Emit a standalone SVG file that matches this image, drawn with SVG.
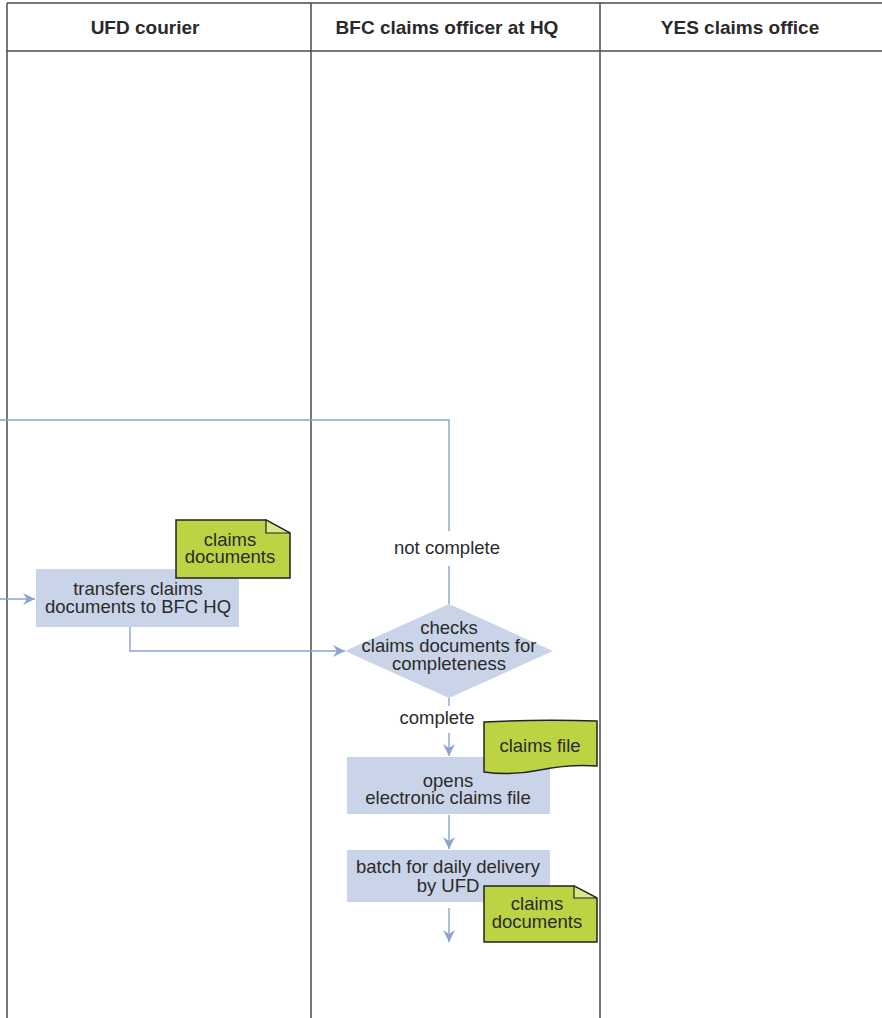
<svg xmlns="http://www.w3.org/2000/svg" width="882" height="1018" viewBox="0 0 882 1018">
<defs>
<style>
.lane{stroke:#4a4a4a;stroke-width:1.5;fill:none}
.hdr{font-family:"Liberation Sans",Arial,sans-serif;font-size:19px;font-weight:bold;fill:#2a2a2a;text-anchor:middle}
.t{font-family:"Liberation Sans",Arial,sans-serif;font-size:18.5px;fill:#2a2a2a;text-anchor:middle}
.box{fill:#cad4e8}
.doc{fill:#bcd444;stroke:#222;stroke-width:1.5}
.fold{fill:#dde68a;stroke:#222;stroke-width:1.2}
.c{stroke:#8aa4cf;stroke-width:1.4;fill:none}
</style>
<marker id="ah" markerWidth="14" markerHeight="12" refX="12" refY="6" orient="auto" markerUnits="userSpaceOnUse">
<path d="M0,0 L12,6 L0,12 L4,6 Z" fill="#8aa4cf"/>
</marker>
</defs>
<rect width="882" height="1018" fill="#fff"/>
<g id="lanes">
<line class="lane" x1="7" y1="3" x2="882" y2="3"/>
<line class="lane" x1="7" y1="51" x2="882" y2="51"/>
<line class="lane" x1="7" y1="3" x2="7" y2="1018"/>
<line class="lane" x1="311" y1="3" x2="311" y2="1018"/>
<line class="lane" x1="600" y1="3" x2="600" y2="1018"/>
<text class="hdr" x="145" y="34">UFD courier</text>
<text class="hdr" x="447" y="34">BFC claims officer at HQ</text>
<text class="hdr" x="740" y="34">YES claims office</text>
</g>
<g id="connectors">
<path class="c" d="M449,604 V566"/>
<path class="c" d="M449,531 V420 H0"/>
<path class="c" d="M0,599 H35" marker-end="url(#ah)"/>
<path class="c" d="M130,627 V651 H345" marker-end="url(#ah)"/>
<path class="c" d="M449,698 V706"/>
<path class="c" d="M449,733 V756" marker-end="url(#ah)"/>
<path class="c" d="M449,815 V849" marker-end="url(#ah)"/>
<path class="c" d="M449,908 V942" marker-end="url(#ah)"/>
<text class="t" x="447" y="554">not complete</text>
<text class="t" x="437" y="724">complete</text>
</g>
<g id="transfers">
<rect class="box" x="36" y="569" width="203" height="58"/>
<text class="t" x="138" y="595">transfers claims</text>
<text class="t" x="138" y="613">documents to BFC HQ</text>
</g>
<g id="doc1">
<path class="doc" d="M176,520 H266 L290,533 V578 H176 Z"/>
<path class="fold" d="M266,520 V533 H290 Z"/>
<text class="t" x="230" y="546">claims</text>
<text class="t" x="230" y="563">documents</text>
</g>
<g id="checks">
<polygon class="box" points="449,604 553,651 449,698 345,651"/>
<text class="t" x="449" y="634">checks</text>
<text class="t" x="449" y="652">claims documents for</text>
<text class="t" x="449" y="670">completeness</text>
</g>
<g id="opens">
<rect class="box" x="347" y="757" width="203" height="57"/>
<text class="t" x="448" y="787">opens</text>
<text class="t" x="448" y="804">electronic claims file</text>
</g>
<g id="claimsfile">
<path class="doc" d="M484,722 Q540,719 597,721 V766 Q570,764 540,770 Q512,776 484,772 Z"/>
<text class="t" x="540" y="752">claims file</text>
</g>
<g id="batch">
<rect class="box" x="347" y="850" width="203" height="52"/>
<text class="t" x="448" y="873">batch for daily delivery</text>
<text class="t" x="448" y="892">by UFD</text>
</g>
<g id="doc2">
<path class="doc" d="M484,886 H574 L597,898 V942 H484 Z"/>
<path class="fold" d="M574,886 V898 H597 Z"/>
<text class="t" x="537" y="910">claims</text>
<text class="t" x="537" y="928">documents</text>
</g>
</svg>
